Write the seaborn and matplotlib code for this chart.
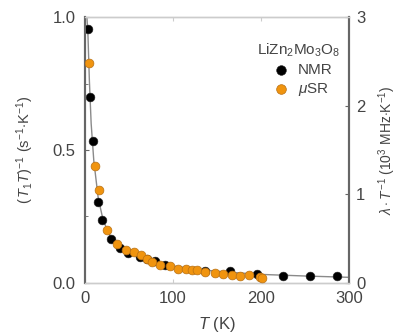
import matplotlib
matplotlib.use("Agg")
import matplotlib.pyplot as plt
import numpy as np
import pandas as pd
import seaborn as sns

# NMR (left axis, (T1 T)^-1 in s^-1 K^-1)
nmr_T = [3.4, 5.7, 8.7, 15, 19.5, 30, 40, 49, 62, 70, 79, 91, 136, 165, 195, 225, 256, 286]
nmr_y = [0.955, 0.70, 0.533, 0.305, 0.238, 0.167, 0.131, 0.112, 0.097, 0.09, 0.081, 0.068,
         0.046, 0.043, 0.034, 0.026, 0.025, 0.026]

# muSR (right axis, lambda/T in 10^3 MHz K^-1)
musr_T = [4.9, 11, 15.5, 25.5, 36, 47, 56, 64, 71, 76, 85, 97, 106, 115, 121, 127,
          136, 148, 157, 167, 176, 186, 199, 201]
musr_y = [2.48, 1.32, 1.05, 0.60, 0.44, 0.37, 0.35, 0.31, 0.27, 0.24, 0.20, 0.19, 0.16,
          0.16, 0.15, 0.15, 0.12, 0.11, 0.10, 0.09, 0.08, 0.09, 0.07, 0.055]

# fit curve
fit_T = [2.2, 3.4, 5, 7, 10, 15, 20, 25, 30, 40, 50, 60, 80, 100, 130, 160, 200, 250, 300]
fit_y = [1.0, 0.93, 0.76, 0.6, 0.46, 0.32, 0.245, 0.2, 0.17, 0.133, 0.112, 0.097, 0.078,
         0.064, 0.05, 0.041, 0.032, 0.026, 0.021]

sns.set_style("ticks")
plt.rcParams['font.family'] = ['Liberation Sans', 'DejaVu Sans']
plt.rcParams['mathtext.fontset'] = 'custom'
plt.rcParams['mathtext.it'] = 'Liberation Sans:italic'
plt.rcParams['mathtext.rm'] = 'Liberation Sans'

txt = '#444444'
dark = '#666666'
light = '#cccccc'

fig = plt.figure(figsize=(3.99, 3.36), dpi=100)
ax = fig.add_axes([0.213, 0.158, 0.662, 0.791])

sns.lineplot(x=fit_T, y=fit_y, ax=ax, color='#8a8a8a', lw=1.0, zorder=1, sort=False)
sns.scatterplot(x=nmr_T, y=nmr_y, ax=ax, color='black', s=40, edgecolor='#222222',
                linewidth=0.4, zorder=3, label='NMR')

ax2 = ax.twinx()
sns.scatterplot(x=musr_T, y=musr_y, ax=ax2, color='#f0940f', s=40, edgecolor='#b87015',
                linewidth=0.5, zorder=3, label=r'$\mu$SR')

ax.set_xlim(0, 300)
ax.set_ylim(0, 1.0)
ax2.set_ylim(0, 3)
ax.set_xticks([0, 100, 200, 300])
ax.set_yticks([0, 0.5, 1.0])
ax.set_yticklabels(['0.0', '0.5', '1.0'])
ax.set_yticks([0.25, 0.75], minor=True)
ax2.set_yticks([0, 1, 2, 3])
ax2.set_yticklabels(['0', '1', '2', '3'])

for a in (ax, ax2):
    for s in ('top', 'bottom'):
        a.spines[s].set_color(light)
        a.spines[s].set_linewidth(1.0)
    for s in ('left', 'right'):
        a.spines[s].set_color(dark)
        a.spines[s].set_linewidth(1.5)

ax.tick_params(axis='x', direction='in', length=3, color=light, labelsize=12,
               labelcolor=txt, pad=6, top=True)
ax.tick_params(axis='y', which='major', direction='in', length=3, color=dark,
               labelsize=12, labelcolor=txt, pad=7)
ax.tick_params(axis='y', which='minor', direction='in', length=2, color=dark)
ax2.tick_params(axis='y', direction='in', length=3, color=dark, labelsize=12,
                labelcolor=txt, pad=5)

ax.set_xlabel(r'$T$ (K)', fontsize=12, color=txt, labelpad=6)
ax.set_ylabel(r'$(\,T_1T)^{-1}$ (s$^{-1}$$\cdot$K$^{-1}$)', fontsize=10.5, color=txt,
              labelpad=12)
ax2.set_ylabel(r'$\lambda\cdot T^{-1}$ (10$^3$ MHz$\cdot$K$^{-1}$)', fontsize=10, color=txt,
               labelpad=8)

h1, l1 = ax.get_legend_handles_labels()
h2, l2 = ax2.get_legend_handles_labels()
if ax.get_legend():
    ax.get_legend().remove()
ax2.legend(h1 + h2, l1 + l2, title=r'LiZn$_2$Mo$_3$O$_8$', loc='upper right',
           bbox_to_anchor=(1.02, 0.96), frameon=False, fontsize=11, title_fontsize=11,
           handletextpad=0.1, labelspacing=0.25, labelcolor=txt, markerscale=1.1)
ax2.get_legend().get_title().set_color(txt)

fig.savefig('out.png', dpi=100)
